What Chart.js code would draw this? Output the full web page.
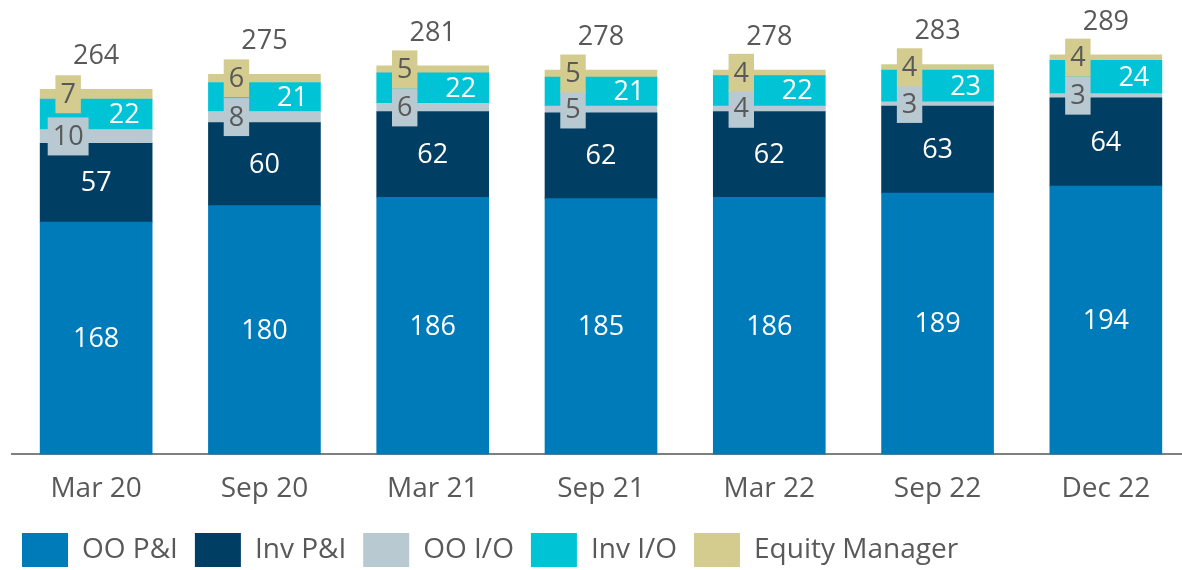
<!DOCTYPE html>
<html>
<head>
<meta charset="utf-8">
<script src="https://cdn.jsdelivr.net/npm/chart.js@4.4.1/dist/chart.umd.min.js"></script>
<style>
html, body { margin: 0; padding: 0; background: #fff; overflow: hidden; }
#wrap { width: 1190px; height: 570px; }
</style>
</head>
<body>
<div id="wrap"><canvas id="loans" width="1190" height="570"></canvas></div>
<script>
const periods = ['Mar 20', 'Sep 20', 'Mar 21', 'Sep 21', 'Mar 22', 'Sep 22', 'Dec 22'];
const ooPI = [168, 180, 186, 185, 186, 189, 194];
const invPI = [57, 60, 62, 62, 62, 63, 64];
const ooIO = [10, 8, 6, 5, 4, 3, 3];
const invIO = [22, 21, 22, 21, 22, 23, 24];
const equityMgr = [7, 6, 5, 5, 4, 4, 4];
const totals = [264, 275, 281, 278, 278, 283, 289];

const FONT = '"Open Sans", sans-serif';
const GREY_TEXT = '#595959';

// how each series gets its value label: centred / shifted left in a box / shifted right
const labelStyle = [
    { pos: 'center', color: '#fff' },
    { pos: 'center', color: '#fff' },
    { pos: 'left', color: GREY_TEXT, box: '#b8c9d1' },
    { pos: 'right', color: '#fff' },
    { pos: 'left', color: GREY_TEXT, box: '#d3cc8e' }
];

const valueLabels = {
    id: 'valueLabels',
    afterDatasetsDraw(chart) {
        const ctx = chart.ctx;
        ctx.save();
        ctx.font = '27px ' + FONT;
        ctx.textAlign = 'center';
        ctx.textBaseline = 'middle';
        chart.data.datasets.forEach((ds, i) => {
            const st = labelStyle[i];
            chart.getDatasetMeta(i).data.forEach((bar, j) => {
                const txt = String(ds.data[j]);
                const cy = (bar.y + bar.base) / 2;
                let cx = bar.x;
                if (st.pos === 'left') cx = bar.x - bar.width / 4;
                if (st.pos === 'right') cx = bar.x + bar.width / 4;
                if (st.box) {
                    const w = ctx.measureText(txt).width + 10;
                    ctx.fillStyle = st.box;
                    ctx.fillRect(cx - w / 2, cy - 19, w, 38);
                }
                ctx.fillStyle = st.color;
                ctx.fillText(txt, cx, cy + 1);
            });
        });
        // totals above each stack
        const top = chart.getDatasetMeta(chart.data.datasets.length - 1).data;
        ctx.fillStyle = GREY_TEXT;
        top.forEach((bar, j) => {
            ctx.fillText(String(totals[j]), bar.x, bar.y - 33);
        });
        ctx.restore();
    }
};

const mk = (label, data, color) => ({
    label: label,
    data: data,
    backgroundColor: color,
    borderWidth: 0,
    barThickness: 112
});

new Chart(document.getElementById('loans'), {
    type: 'bar',
    data: {
        labels: periods,
        datasets: [
            mk('OO P&I', ooPI, '#007bba'),
            mk('Inv P&I', invPI, '#003f63'),
            mk('OO I/O', ooIO, '#b8c9d1'),
            mk('Inv I/O', invIO, '#00c3d6'),
            mk('Equity Manager', equityMgr, '#d3cc8e')
        ]
    },
    options: {
        responsive: false,
        animation: false,
        layout: { padding: { left: 5, right: 0, top: 12, bottom: -7 } },
        scales: {
            x: {
                stacked: true,
                grid: { display: false },
                border: { color: '#7f7f7f', width: 2 },
                ticks: { color: GREY_TEXT, font: { family: FONT, size: 28 }, padding: 10 }
            },
            y: {
                stacked: true,
                min: 0,
                max: 320,
                grid: { display: false },
                border: { display: false },
                ticks: { display: false },
                afterFit(scale) { scale.width = 7; }
            }
        },
        plugins: {
            tooltip: { enabled: false },
            legend: {
                position: 'bottom',
                align: 'start',
                labels: {
                    boxWidth: 46,
                    boxHeight: 34,
                    color: GREY_TEXT,
                    font: { family: FONT, size: 28 },
                    padding: 17
                }
            }
        }
    },
    plugins: [valueLabels]
});
</script>
</body>
</html>
